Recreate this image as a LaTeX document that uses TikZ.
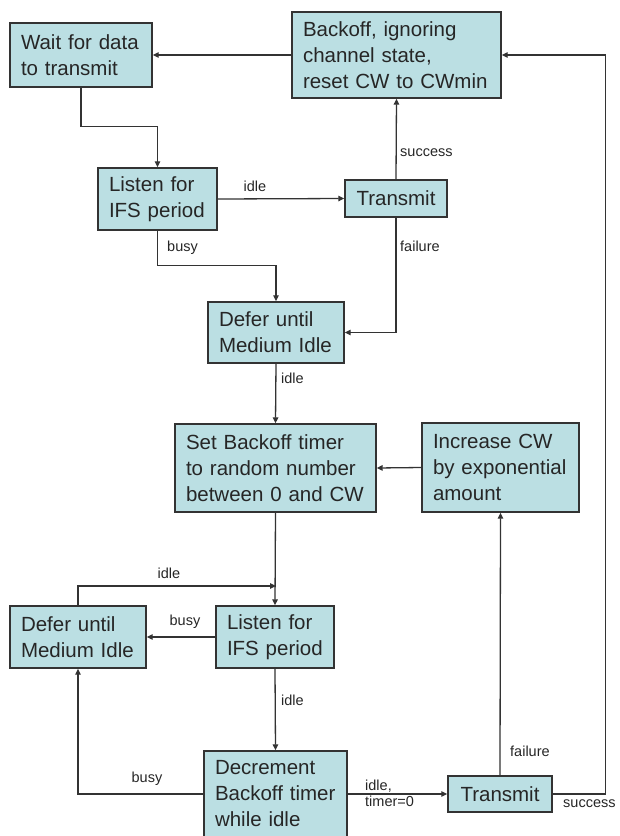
\documentclass[tikz,border=0pt]{standalone}
\usepackage{fontspec}
\setmainfont{Liberation Sans}
\usetikzlibrary{arrows.meta}
\definecolor{boxfill}{HTML}{BBDFE3}
\definecolor{edge}{HTML}{333333}
\tikzset{
  box/.style={draw=edge, fill=boxfill, line width=1.4pt, inner xsep=11pt, inner ysep=0pt,
    align=left, font=\fontsize{20.5}{26}\selectfont, text=black!85, anchor=center},
  arr/.style={draw=edge, line width=1.3pt, -{Triangle[length=6pt,width=5.5pt]}},
  lbl/.style={font=\fontsize{14.5}{15}\selectfont, inner sep=0pt, text=black!85}
}
\begin{document}
\begin{tikzpicture}[x=1pt,y=-1pt]
\useasboundingbox (0,0) rectangle (619,836);
\begin{scope}
\clip (0,0) rectangle (619,836);
% state boxes
\node[box, minimum width=142, minimum height=64, text width=120] (wait) at (81,55) {Wait for data\\to transmit};
\node[box, minimum width=209, minimum height=86, text width=187] (backoff) at (396.5,55) {Backoff, ignoring\\channel state,\\reset CW to CWmin};
\node[box, minimum width=119, minimum height=62, text width=97] (listenA) at (157.5,199) {Listen for\\IFS period};
\node[box, minimum width=102, minimum height=37, text width=80, align=center] (txA) at (396,198.5) {Transmit};
\node[box, minimum width=136, minimum height=61, text width=114] (deferA) at (276,332.5) {Defer until\\Medium Idle};
\node[box, minimum width=201, minimum height=88, text width=179] (setbo) at (275.5,468) {Set Backoff timer\\to random number\\between 0 and CW};
\node[box, minimum width=157, minimum height=89, text width=135] (incr) at (500.5,467.5) {Increase CW\\by exponential\\amount};
\node[box, minimum width=118, minimum height=62, text width=96] (listenB) at (275,637) {Listen for\\IFS period};
\node[box, minimum width=136, minimum height=62, text width=114] (deferB) at (78,637) {Defer until\\Medium Idle};
\node[box, minimum width=143, minimum height=86, text width=121] (decr) at (275.5,794) {Decrement\\Backoff timer\\while idle};
\node[box, minimum width=104, minimum height=36, text width=82, align=center] (txB) at (500,794) {Transmit};

% upper loop
\draw[arr] (backoff.west) -- (wait.east);
\draw[arr] (wait.south) -- ++(0,39) -| (listenA.north);
\draw[arr] (listenA.east) -- (txA.west);
\node[lbl] (lidleA) at (255,186) {idle};
\draw[arr] (txA.north) -- (backoff.south);
\node[lbl, anchor=west] (lsuccA) at (400,153) {success};
\draw[arr] (txA.south) |- (deferA.east);
\node[lbl, anchor=west] (lfailA) at (400,246) {failure};
\draw[arr] (listenA.south) -- ++(0,35) -| (deferA.north);
\node[lbl, anchor=west] (lbusyA) at (167,248) {busy};
\draw[arr] (deferA.south) -- (setbo.north);
\node[lbl, anchor=west] (lidleB) at (281,378) {idle};

% backoff loop
\draw[arr] (incr.west) -- (setbo.east);
\draw[arr] (setbo.south) -- (listenB.north);
\coordinate (join) at (276,586);
\draw[arr] (deferB.north) |- (join);
\node[lbl] (lidleC) at (169,573) {idle};
\draw[arr] (listenB.west) -- (deferB.east);
\node[lbl] (lbusyB) at (185,622) {busy};
\draw[arr] (listenB.south) -- (decr.north);
\node[lbl, anchor=west] (lidleD) at (281,700) {idle};
\draw[arr] (decr.west) -| (deferB.south);
\node[lbl] (lbusyC) at (147,779) {busy};
\draw[arr] (decr.east) -- (txB.west);
\node[lbl, anchor=west, align=left, font=\fontsize{14.5}{16}\selectfont] (lidleE) at (365,793) {idle,\\timer=0};
\draw[arr] (txB.north) -- (incr.south);
\node[lbl, anchor=west] (lfailB) at (510,751) {failure};
\draw[arr] (txB.east) -- ++(53,0) |- (backoff.east);
\node[lbl, anchor=west] (lsuccB) at (563,804) {success};
\end{scope}
\end{tikzpicture}
\end{document}
